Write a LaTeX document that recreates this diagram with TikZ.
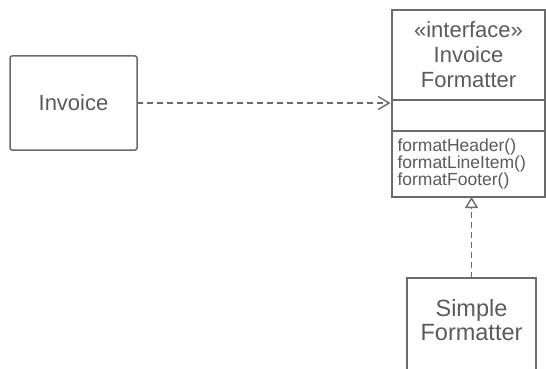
\documentclass[tikz,border=0pt]{standalone}
\usepackage{fontspec}
\setmainfont{Liberation Sans}
\usetikzlibrary{arrows.meta}
\definecolor{ln}{HTML}{6A6A6A}
\definecolor{tx}{HTML}{5A5A5A}
\tikzset{
  umlbox/.style={draw=ln, line width=1.5pt, inner sep=0pt, outer sep=0pt, text=tx, anchor=north west},
  deparrow/.style={draw=ln, line width=1.4pt, dash pattern=on 6pt off 4pt, -{Straight Barb[length=11pt,width=13pt,line width=1.4pt]}},
  realarrow/.style={draw=ln, line width=1.4pt, dash pattern=on 6pt off 4pt, -{Triangle[open,length=11pt,width=13pt,line width=1.4pt,fill=white]}}
}
\begin{document}
\begin{tikzpicture}[x=1pt,y=-1pt]
\useasboundingbox (0,0) rectangle (546,369);
\node[umlbox, rounded corners=2pt, minimum width=127pt, minimum height=94pt, font=\fontsize{22}{25}\selectfont] (inv) at (10,56) {Invoice};
\node[umlbox, minimum width=153pt, minimum height=90pt, align=center, font=\fontsize{22}{25}\selectfont] (head) at (392,10) {«interface»\\Invoice\\Formatter};
\node[umlbox, minimum width=153pt, minimum height=31pt] (attr) at (392,100) {};
\node[umlbox, minimum width=153pt, minimum height=66pt, align=left, text width=142pt, inner xsep=5.5pt, font=\fontsize{17.5pt}{16pt}\selectfont] (ops) at (392,131) {\fontsize{17.5pt}{16pt}\selectfont formatHeader()\\formatLineItem()\\formatFooter()};
\node[umlbox, minimum width=129pt, minimum height=110pt, align=center, text depth=0pt, font=\fontsize{23.5}{24}\selectfont] (simple) at (407,278) {\raisebox{26pt}{\shortstack{Simple\\Formatter}}};
\draw[deparrow, shorten >=1.5pt] (inv.east) -- (inv.east -| ops.west);
\draw[realarrow] (simple.north) -- (simple.north |- ops.south);
\end{tikzpicture}
\end{document}
